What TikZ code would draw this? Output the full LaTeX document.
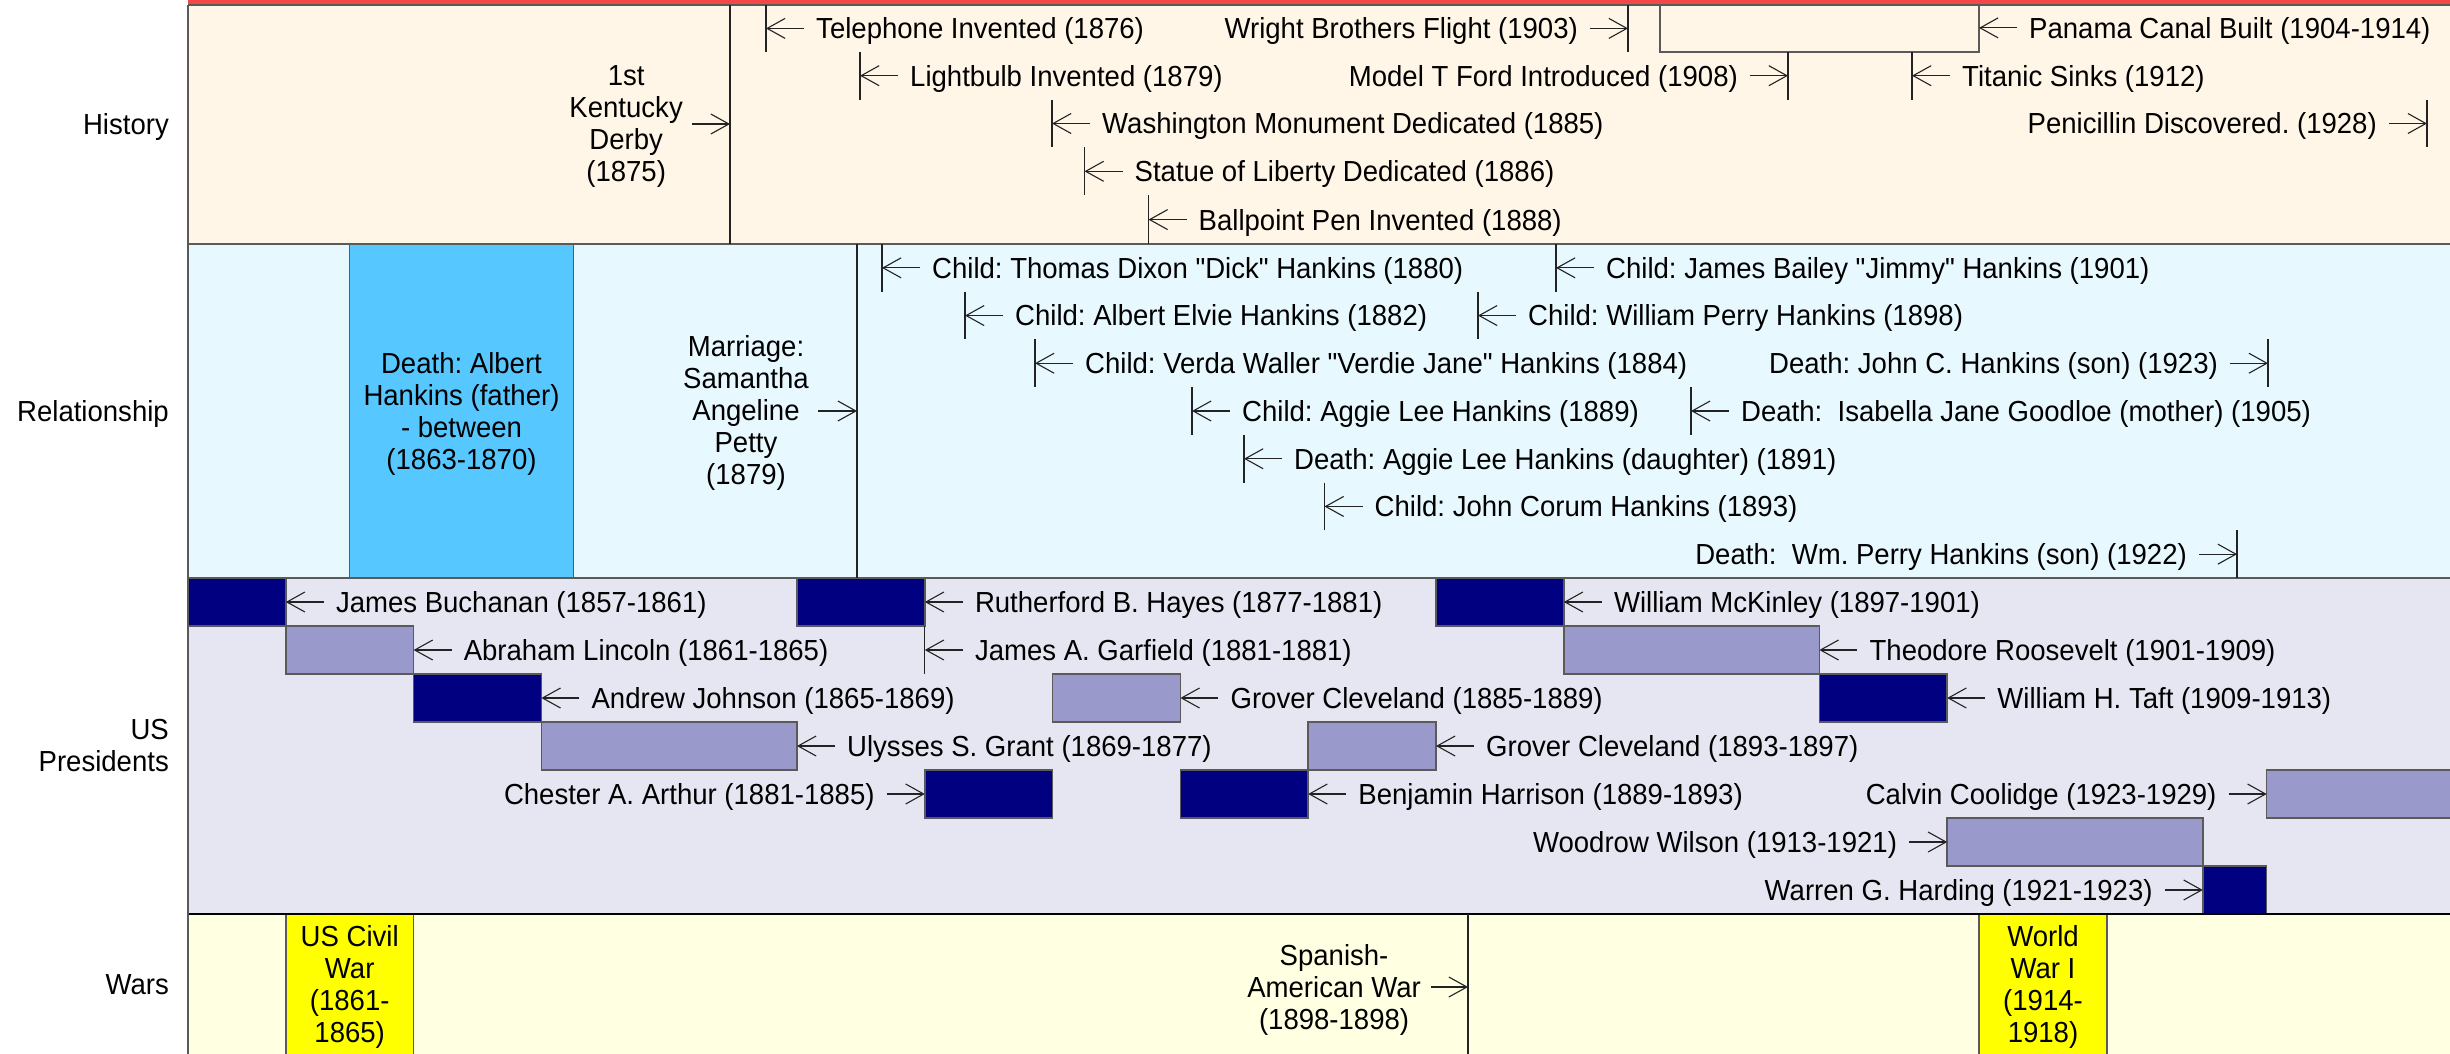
\documentclass[tikz,border=0pt]{standalone}
\usepackage{fontspec}
\setmainfont{Liberation Sans}[FakeStretch=0.95,Ligatures=TeXOff]
\usetikzlibrary{arrows.meta}
\definecolor{redtop}{RGB}{242,72,72}
\definecolor{histbg}{RGB}{255,246,231}
\definecolor{relbg}{RGB}{232,248,255}
\definecolor{presbg}{RGB}{230,230,242}
\definecolor{warbg}{RGB}{255,255,226}
\definecolor{albertc}{RGB}{87,199,255}
\definecolor{navy}{RGB}{0,0,128}
\definecolor{lav}{RGB}{153,153,204}
\definecolor{warbar}{RGB}{255,255,0}
\definecolor{bdr}{RGB}{90,90,90}
\definecolor{mk}{RGB}{35,35,35}
\newcommand\fs{\fontsize{29pt}{32pt}\selectfont\frenchspacing}
% event with vertical marker line, text to the right (arrow points left)
\newcommand\evL[5]{%
  \draw[mline] (#2,#3) -- (#2,#4);
  \coordinate (#1m) at (#2,{(#3+#4)/2});
  \node[lbl,anchor=west] (#1) at ({#2+50},{(#3+#4)/2}) {#5};
  \draw[evarrow] ([xshift=-12pt]#1.west) -- (#1m);}
% event with vertical marker line, text to the left (arrow points right)
\newcommand\evR[5]{%
  \draw[mline] (#2,#3) -- (#2,#4);
  \coordinate (#1m) at (#2,{(#3+#4)/2});
  \node[lbl,anchor=east] (#1) at ({#2-50},{(#3+#4)/2}) {#5};
  \draw[evarrow] ([xshift=12pt]#1.east) -- (#1m);}
% label pointing to a bar edge
\newcommand\tagL[4]{%
  \coordinate (#1m) at (#2,#3);
  \node[lbl,anchor=west] (#1) at ({#2+50},#3) {#4};
  \draw[evarrow] ([xshift=-12pt]#1.west) -- (#1m);}
\newcommand\tagR[4]{%
  \coordinate (#1m) at (#2,#3);
  \node[lbl,anchor=east] (#1) at ({#2-50},#3) {#4};
  \draw[evarrow] ([xshift=12pt]#1.east) -- (#1m);}
\begin{document}
\frenchspacing
\begin{tikzpicture}[x=1pt,y=-1pt,
  lbl/.style={inner sep=0pt,font=\fs,text height=20.8pt,text depth=0pt},
  mlbl/.style={inner sep=0pt,font=\fs,align=center},
  rowlbl/.style={inner sep=0pt,font=\fs,align=right},
  mline/.style={draw=mk,line width=1.1pt},
  evarrow/.style={draw=mk,line width=1.1pt,-{Straight Barb[length=18pt,width=20pt]}},
  darkbar/.style={fill=navy,draw=bdr,line width=1.5pt},
  lightbar/.style={fill=lav,draw=bdr,line width=1.5pt},
  abar/.style={fill=albertc,draw=bdr,line width=1.5pt},
  wbar/.style={fill=warbar,draw=bdr,line width=1.5pt},
  pbox/.style={fill=histbg,draw=bdr,line width=1.5pt},
  sep/.style={draw=bdr,line width=2pt},
  sepdark/.style={draw=black,line width=2pt}]
\useasboundingbox (0,0) rectangle (2450,1054);
\clip (0,0) rectangle (2450,1054);
\fill[white] (0,0) rectangle (2450,1054);
% section backgrounds
\fill[redtop] (188,0) rectangle (2450,5);
\fill[histbg] (188,5) rectangle (2450,244);
\fill[relbg] (188,244) rectangle (2450,578);
\fill[presbg] (188,578) rectangle (2450,914);
\fill[warbg] (188,914) rectangle (2450,1060);
% row labels
\node[lbl,anchor=east] (histlbl) at (169,124) {History};
\node[lbl,anchor=east] (rellbl) at (169,411) {Relationship};
\node[rowlbl,anchor=east] (preslbl) at (169,745.3) {US\\Presidents};
\node[lbl,anchor=east] (warlbl) at (169,984) {Wars};
% ---- span bars
\draw[abar] (349.7,244) rectangle (573.4,578);
\draw[wbar] (285.8,914) rectangle (413.6,1070);
\draw[wbar] (1979,914) rectangle (2107,1070);
\draw[pbox] (1660,5) rectangle (1979,51.8);
% ---- presidents bars
\draw[darkbar] (188,578) rectangle (285.8,626);
\draw[darkbar] (797,578) rectangle (924.8,626);
\draw[darkbar] (1436,578) rectangle (1563.8,626);
\draw[lightbar] (285.8,626) rectangle (413.6,674);
\draw[lightbar] (1563.8,626) rectangle (1819.4,674);
\draw[darkbar] (413.6,674) rectangle (541.4,722);
\draw[lightbar] (1052.6,674) rectangle (1180.4,722);
\draw[darkbar] (1819.4,674) rectangle (1947.2,722);
\draw[lightbar] (541.4,722) rectangle (797,770);
\draw[lightbar] (1308.2,722) rectangle (1436,770);
\draw[darkbar] (924.8,770) rectangle (1052.6,818);
\draw[darkbar] (1180.4,770) rectangle (1308.2,818);
\draw[lightbar] (2266.7,770) rectangle (2470,818);
\draw[lightbar] (1947.2,818) rectangle (2202.8,866);
\draw[darkbar] (2202.8,866) rectangle (2266.7,914);
% ---- section separators
\draw[sep] (188,5) -- (2450,5);
\draw[sep] (188,244) -- (2450,244);
\draw[sep] (188,578) -- (2450,578);
\draw[sepdark] (188,914) -- (2450,914);
\draw[sep] (188,5) -- (188,1054);
% ---- History
\draw[mline] (730,5) -- (730,244);
\coordinate (derbym) at (730,124);
\node[mlbl,anchor=east] (derby) at (683,126.9) {1st\\Kentucky\\Derby\\(1875)};
\draw[evarrow] ([xshift=9pt,yshift=2.9pt]derby.east) -- (derbym);
\evL{tel}{766}{5}{51.8}{Telephone Invented (1876)}
\evR{wright}{1628}{5}{51.8}{Wright Brothers Flight (1903)}
\tagL{panama}{1979}{27.9}{Panama Canal Built (1904-1914)}
\evL{bulb}{860}{51.8}{99.6}{Lightbulb Invented (1879)}
\evR{modelt}{1788}{51.8}{99.6}{Model T Ford Introduced (1908)}
\evL{titanic}{1912}{51.8}{99.6}{Titanic Sinks (1912)}
\evL{wash}{1052}{99.6}{147.4}{Washington Monument Dedicated (1885)}
\evR{penic}{2427}{99.6}{147.4}{Penicillin Discovered. (1928)}
\evL{statue}{1084.5}{147.4}{195.2}{Statue of Liberty Dedicated (1886)}
\evL{ballpt}{1148.5}{195.2}{244}{Ballpoint Pen Invented (1888)}
% ---- Relationship
\node[mlbl] (albtxt) at (461.5,413.9) {Death: Albert\\Hankins (father)\\- between\\(1863-1870)};
\draw[mline] (857,244) -- (857,578);
\coordinate (marrm) at (857,411);
\node[mlbl,anchor=east] (marr) at (809,413.3) {Marriage:\\Samantha\\Angeline\\Petty\\(1879)};
\draw[evarrow] ([xshift=9pt,yshift=2.3pt]marr.east) -- (marrm);
\evL{thomas}{882}{244}{291.7}{Child: Thomas Dixon "Dick" Hankins (1880)}
\evL{james}{1556}{244}{291.7}{Child: James Bailey "Jimmy" Hankins (1901)}
\evL{elvie}{965}{291.7}{339.4}{Child: Albert Elvie Hankins (1882)}
\evL{william}{1478}{291.7}{339.4}{Child: William Perry Hankins (1898)}
\evL{verda}{1035}{339.4}{387.1}{Child: Verda Waller "Verdie Jane" Hankins (1884)}
\evR{johnc}{2268}{339.4}{387.1}{Death: John C. Hankins (son) (1923)}
\evL{aggie}{1192}{387.1}{434.9}{Child: Aggie Lee Hankins (1889)}
\evL{isabella}{1691}{387.1}{434.9}{Death:\ \ Isabella Jane Goodloe (mother) (1905)}
\evL{aggied}{1244}{434.9}{482.6}{Death: Aggie Lee Hankins (daughter) (1891)}
\evL{johncor}{1324.5}{482.6}{530.3}{Child: John Corum Hankins (1893)}
\evR{wmperry}{2237}{530.3}{578}{Death:\ \ Wm. Perry Hankins (son) (1922)}
% ---- Presidents
\tagL{buch}{285.8}{602}{James Buchanan (1857-1861)}
\tagL{hayes}{924.8}{602}{Rutherford B. Hayes (1877-1881)}
\tagL{mck}{1563.8}{602}{William McKinley (1897-1901)}
\tagL{lincoln}{413.6}{650}{Abraham Lincoln (1861-1865)}
\evL{garf}{924.8}{626}{674}{James A. Garfield (1881-1881)}
\tagL{troos}{1819.4}{650}{Theodore Roosevelt (1901-1909)}
\tagL{johnson}{541.4}{698}{Andrew Johnson (1865-1869)}
\tagL{clevone}{1180.4}{698}{Grover Cleveland (1885-1889)}
\tagL{taft}{1947.2}{698}{William H. Taft (1909-1913)}
\tagL{grant}{797}{746}{Ulysses S. Grant (1869-1877)}
\tagL{clevtwo}{1436}{746}{Grover Cleveland (1893-1897)}
\tagR{arthur}{924.8}{794}{Chester A. Arthur (1881-1885)}
\tagL{harrison}{1308.2}{794}{Benjamin Harrison (1889-1893)}
\tagR{coolidge}{2266.7}{794}{Calvin Coolidge (1923-1929)}
\tagR{wilson}{1947.2}{842}{Woodrow Wilson (1913-1921)}
\tagR{harding}{2202.8}{890}{Warren G. Harding (1921-1923)}
% ---- Wars
\node[mlbl] (civil) at (349.7,987.4) {US Civil\\War\\(1861-\\1865)};
\node[mlbl] (wwi) at (2043,987.4) {World\\War I\\(1914-\\1918)};
\draw[mline] (1468,914) -- (1468,1054);
\coordinate (spanm) at (1468,987);
\node[mlbl,anchor=east] (spanish) at (1421,989.9) {Spanish-\\American War\\(1898-1898)};
\draw[evarrow] ([xshift=10pt,yshift=2.9pt]spanish.east) -- (spanm);
\end{tikzpicture}
\end{document}
